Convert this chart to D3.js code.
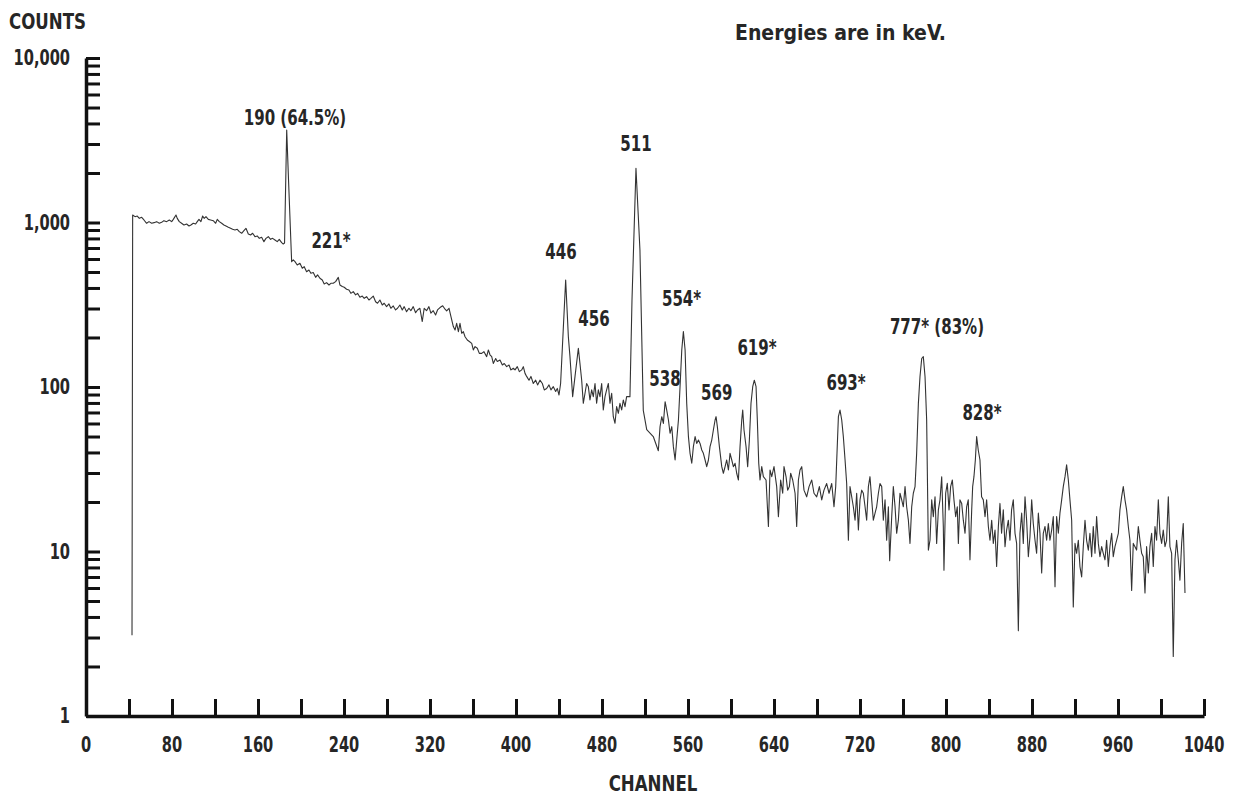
<!DOCTYPE html>
<html>
<head>
<meta charset="utf-8">
<script src="https://cdn.jsdelivr.net/npm/d3@7"></script>
<style>
body { margin: 0; background: #fff; }
svg text { font-family: "Liberation Sans Narrow", "DejaVu Sans Condensed", sans-serif; font-weight: bold; fill: #262626; }
</style>
</head>
<body>
<svg id="chart" width="1241" height="797"></svg>
<script>
// spectrum trace, as [channel, counts]
const plateauTrace = [
  [42.8,3.1],[43.4,1111],[45.6,1085],[47.7,1095],[49.6,1060],[51.8,1075],[53.9,1036],[56.4,989],[58.6,1012],[61.1,989],
  [63.2,998],[65.7,1012],[68.2,989],[70.4,1002],[72.5,1026],[75,1012],[77.5,1036],[79.7,1012],[81.2,1045],[83.7,1111],
  [84.9,1060],[86.8,1012],[88.9,989],[91.1,966],[93.6,979],[95.8,952],[97.6,966],[99.8,989],[102,979],[103.5,1012],
  [105.1,1045],[106.9,1012],[108.5,1095],[110,1060],[111.6,1085],[113.8,1045],[115.9,1036],[118.4,1026],[120.6,989],[122.1,1045],
  [124,1012],[126.2,989],[128.3,966],[130.2,952],[132.4,935],[134.5,922],[136.4,909],[138.6,901],[140.7,909],[142.6,880],
  [144.8,860],[146.9,892],[148.8,922],[151,852],[153.1,840],[155,860],[157.2,820],[159.3,828],[161.2,801],[163.4,813],
  [165.5,765],[167.4,801],[169.6,820],[171.7,790],[173.6,801],[175.8,783],[177.9,765],[179.8,790],[182,754],[183.5,740],
  [184.7,750],[186.7,3650],[188.4,1813],[191.3,578],[192.8,592]
];
const comptonTrace = [
  [194.4,578],[196.5,552],[199,565],[201.2,527],[203,539],[205.2,502],[207.4,514],[209.2,491],[211.4,496],[213.6,464],
  [215.4,480],[217.6,458],[219.8,447],[221.6,423],[223.8,431],[226,417],[227.8,427],[230,427],[232.2,437],[234.7,464],
  [236.2,417],[238.4,408],[240.2,404],[242.4,393],[244.6,389],[246.4,371],[248.6,380],[250.8,363],[252.6,371],[254.8,351],
  [257,357],[258.8,346],[261,354],[263.2,338],[265,346],[267.2,357],[269.4,330],[271.2,323],[273.4,338],[275.6,315],
  [277.4,323],[279.6,308],[281.8,320],[283.6,301],[285.8,311],[288,294],[289.8,301],[292,315],[294.2,294],[296,308],
  [298.2,287],[300.4,301],[302.2,291],[304.4,308],[306.6,283],[308.4,294],[310.6,301],[312.8,250],[314.6,301],[316.8,291],
  [319,308],[320.8,281],[323,291],[325.2,274],[327,294],[329.3,304],[331.8,312],[334,297],[335.5,290],[337.7,301],
  [339.5,268],[341.7,233],[343.3,222],[344.8,244],[346.4,217],[347.9,244],[349.5,212],[351,217],[352.6,202],[354.7,193],
  [356.6,189],[358.8,184],[360.3,168],[361.9,176],[364,172],[365.9,160],[368.1,160],[370.2,164],[372.7,153],[374.3,168],
  [375.8,157],[377.4,153],[378.9,139],[381.1,149],[382.6,143],[385.1,146],[387.3,136],[389.1,139],[391.3,133],[393.5,136],
  [395.3,127],[397.5,130],[399.1,127],[401.2,133],[403.1,124],[405.3,127],[406.8,133],[408.4,121],[409.9,116],[412.1,110],
  [413.9,116],[416.1,105],[418.3,110],[420.1,103],[422.3,110],[424.5,105],[426.3,96],[428.5,98],[430.7,103],[432.5,96],
  [434.7,100.5],[436.9,94],[438.4,98],[440,89.4],[441.5,105]
];
const peakTrace = [
  [446.2,447],[448.7,202],[450.2,153],[452.7,87.4],[454.9,116],[458,172],[459.5,139],[461.1,110],[462.6,79.6],[464.2,91.6],
  [465.7,105],[467.3,100.5],[468.8,83.4],[470.4,96],[471.9,87.4],[473.5,105],[475,79.6],[476.6,96],[478.1,87.4],[479.7,105],
  [481.2,72.5],[482.8,87.4],[484.3,96],[485.9,105],[487.4,79.6],[489,91.6],[490.5,66],[492.1,60.2],[493.6,76],[495.2,69.2],
  [496.7,79.6],[498.3,72.5],[499.8,83.4],[501.4,76],[502.9,87.4],[504.5,87.4],[506,87.4],[507.9,338],[511.6,2135],[515.3,680],
  [518.4,72],[521.6,55],[527.7,50],[532.4,41],[534,57.4],[535.6,66],[537.1,60.1],[538.7,81.4],[540.2,72.4],[541.8,63],
  [543.3,52.3],[544.9,57.4],[546.4,43.4],[548,36],[549.5,47.6],[551.1,63],[552.6,100.4],[554.2,168],[555.7,217],[557.3,168],
  [558.8,79.5],[560.4,49.9],[561.9,39.5],[563.5,34.4],[565,43.4],[566.6,49.9],[568.1,45.4],[569.7,47.6],[571.2,45.4],[572.8,41.4],
  [574.3,39.5],[575.9,36],[577.4,32.8],[579,36],[580.5,43.4],[582.1,47.6],[583.6,54.8],[585.2,63],[586.1,66],[587.3,57.4],
  [589.2,43.4],[591.4,32.8],[592.9,29.9],[594.5,32.8],[596,36],[597.6,31.3],[599.1,39.5],[600.7,36],[602.2,32.8],[603.8,34.4],
  [605.3,29.9],[606.9,27.2],[608.4,43.4],[610,63],[610.9,72.4],[612.1,54.8],[614,43.4],[615.5,32.8],[617.1,47.6],[618.6,79.5],
  [620.2,100.4],[621.7,110],[623.3,100.4],[624.5,63],[625.8,34.4]
];
const tailTrace = [
  [627,27.2],[628.6,32.8],[630.1,28.5],[632.6,27.2],[634.8,14.2],[636.3,31.3],[637.9,28.5],[640,32.8],[642.5,24.8],[644.1,16.3],
  [646.2,27.2],[648.1,22.6],[649.3,32.8],[651.2,28.5],[652.7,23.6],[654.3,24.8],[655.5,29.9],[657.4,27.2],[659.6,22.6],[661.1,14.2],
  [662.7,27.2],[664.2,31.3],[665.8,32.8],[667.9,23.6],[670.4,21.5],[672.6,24.8],[675.1,27.2],[677.2,22.6],[679.7,21.5],[682.2,24.8],
  [684.4,20.6],[686.5,23.6],[689,25.9],[691.2,22.6],[693.7,25.9],[695.8,18.7],[697.4,24.8],[699.9,66],[701.4,72.4],[703,63],
  [704.5,49.9],[706.1,36],[707.6,25.9],[709.2,11.7],[710.7,24.8],[712.3,21.5],[713.8,18.7],[715.4,15.5],[716.9,22.6],[718.5,13.5],
  [720,20.6],[721.6,23.6],[723.1,22.6],[724.7,18.7],[726.2,15.5],[727.8,24.8],[729.3,28.5],[730.9,20.6],[732.4,15.5],[734,17.1],
  [735.5,18.7],[737.1,22.6],[738.6,25.9],[740.2,24.8],[741.7,15.5],[743.3,20.6],[744.8,11.7],[746.4,18.7],[747.6,8.8],[749.5,16.3],
  [751,24.8],[752.6,18.7],[754.1,12.9],[755.7,15.5],[757.2,22.6],[758.8,20.6],[760.3,18.7],[761.9,24.8],[763.4,18.7],[765,15.5],
  [766.5,11.2],[768.1,18.7],[769.6,22.6],[771.2,24.8],[772.7,39.5],[774.3,79.5],[775.8,115.5],[777.4,149],[778.9,153],[780.5,115.5],
  [782,63],[783.6,10.2]
];
const farTailTrace = [
  [785.1,11.7],[786.7,20.6],[788.2,16.3],[789.8,21.5],[791.3,11.2],[792.9,17.9],[794.4,20.6],[796,28.5],[797.5,14.2],[798.1,7.7],
  [799.7,22.6],[801.2,26],[802.8,17.9],[804.3,24.8],[805.9,27.2],[807.4,20.6],[809,16.3],[810.5,18.7],[811.5,11.2],[813,20.6],
  [814.6,19.6],[816.1,15.5],[817.7,12.9],[819.2,18.7],[820.7,20.6],[822.3,8.9],[823.9,17.9],[824.8,24.8],[826,28.5],[827.3,36],
  [828.5,49.9],[830,41.4],[831.6,36],[833.1,21.5],[834.7,20.6],[836.3,16.3],[837.8,20.6],[839.4,14.2],[840.9,11.7],[842.5,15.5],
  [844,11.2],[845.6,13.5],[847.1,8.1],[848.7,14.2],[850.2,19.6],[851.7,12.9],[853.3,17.9],[854.9,10.7],[856.4,13.5],[858,15.5],
  [859.5,11.7],[861,17.9],[862.6,20.6],[864.2,12.9],[865.7,11.2],[867.3,3.3],[868.8,12.9],[870.4,17.1],[871.9,11.2],[873.5,21.5],
  [875,15.5],[876.6,9.3],[878.1,12.3],[879.7,20.6],[881.2,14.8],[882.8,11.7],[884.3,9.75],[885.9,17.1],[887.4,12.9],[889,7.4],
  [890.5,12.9],[892.1,14.2],[893.6,11.7],[895.2,14.8],[896.7,11.7],[898.3,13.5],[899.8,16.3],[901.4,6.1],[902.9,16.3],[904.5,12.9],
  [906,17.1],[907.6,20.6],[909.1,24.8],[910.7,28.5],[912.2,33.6],[913.8,27.2],[915.3,20.6],[916.9,15.5],[918.4,4.6],[920,11.2],
  [921.5,9.75],[923.1,11.7],[924.6,8.1],[926.2,7],[927.7,10.7],[929.3,15.5],[930.8,11.7],[932.4,10.2],[933.9,12.9],[935.5,9.3],
  [937,14.2],[938.6,9.75],[940.1,16.3],[941.7,11.2],[943.2,9.3],[944.8,10.7],[946.3,9.75],[947.9,8.9],[949.4,11.7],[951,8.1],
  [952.5,10.7],[954.1,12.9],[955.6,9.3],[957.2,10.7],[958.7,11.7],[960.3,12.9],[961.8,17.9],[963.4,21.5],[964.9,24.8],[966.5,20.6],
  [968,17.9],[969.6,14.2],[971.1,11.7],[972.7,5.8],[974.2,11.2],[975.8,10.7],[977.3,10.2],[978.9,14.2],[980.4,11.7],[982,9.75],
  [983.5,9.3],[985.1,5.6],[986.6,10.7],[988.2,7.4],[989.7,10.7],[991.3,12.9],[992.8,8.1],[994.4,14.2],[995.9,11.7],[997.5,20.6],
  [999,12.9],[1000.6,11.2],[1002.1,13.5],[1003.7,10.7],[1005.2,11.7],[1006.8,21.5],[1008.3,10.7],[1009.9,9.75],[1011.4,2.3],[1013,8.9],
  [1014.5,11.7],[1016.1,8.9],[1017.6,6.7],[1019.2,11.2],[1020.7,14.8],[1022.3,5.6]
];

// peak annotations, anchored in data units
const peakLabels   = ["190 (64.5%)", "221*", "446", "456", "511", "538", "554*", "569", "619*", "693*", "777* (83%)", "828*"];
const peakChannels = [194.4, 227.9, 441.9, 472.6, 511.6, 538.6, 554, 586.7, 624.2, 707, 791.6, 833.5];
const peakCounts   = [4350, 772, 666, 261, 3020, 113, 343, 92.6, 173, 106, 232, 69.5];

const xTickValues = [0, 40, 80, 120, 160, 200, 240, 280, 320, 360, 400, 440, 480, 520, 560, 600, 640, 680, 720, 760, 800, 840, 880, 920, 960, 1000, 1040];
const xLabelValues = [0, 80, 160, 240, 320, 400, 480, 560, 640, 720, 800, 880, 960, 1040];
const yLabelValues = [1, 10, 100, 1000, 10000];
const yLabelText = ["1", "10", "100", "1,000", "10,000"];

var svg = d3.select("#chart");

var x = d3.scaleLinear().domain([0, 1040]).range([86, 1204]);
var y = d3.scaleLog().domain([1, 10000]).range([716, 58]);

// narrow typewriter-ish text: squeeze horizontally
const addText = (px, py, txt, anchor, sx, size) => {
  return svg.append("text")
    .attr("transform", "translate(" + px + "," + py + ") scale(" + sx + ",1)")
    .attr("text-anchor", anchor)
    .attr("dominant-baseline", "central")
    .style("font-size", size + "px")
    .text(txt);
};

// x axis: ticks point up into the plot
var xAxis = d3.axisBottom(x)
  .tickValues(xTickValues)
  .tickSize(-17)
  .tickSizeOuter(0)
  .tickFormat("");
var gx = svg.append("g").attr("transform", "translate(0," + y(1) + ")").call(xAxis);

var yAxis = d3.axisLeft(y)
  .tickValues(y.ticks())
  .tickSize(-14)
  .tickSizeOuter(0)
  .tickFormat("");
var gy = svg.append("g").attr("transform", "translate(" + x(0) + ",0)").call(yAxis);

[gx, gy].forEach(g => {
  g.select(".domain").attr("stroke", "#111").attr("stroke-width", 3.5);
  g.selectAll(".tick line").attr("stroke", "#111").attr("stroke-width", 3);
});

xLabelValues.forEach(v => addText(x(v), y(1) + 29, String(v), "middle", 0.74, 22));
yLabelValues.forEach((v, i) => addText(x(0) - 16, y(v), yLabelText[i], "end", 0.74, 22));

// spectrum
var spectrum = [].concat(plateauTrace, comptonTrace, peakTrace, tailTrace, farTailTrace);
var line = d3.line()
  .x(d => x(d[0]))
  .y(d => y(d[1]));

svg.append("path")
  .datum(spectrum)
  .attr("fill", "none")
  .attr("stroke", "#333")
  .attr("stroke-width", 1.1)
  .attr("stroke-linejoin", "round")
  .attr("d", line);

// peak labels
peakLabels.forEach((t, i) => addText(x(peakChannels[i]), y(peakCounts[i]), t, "middle", 0.76, 22));

// titles
addText(9, 21, "COUNTS", "start", 0.84, 22);
addText(653, 783, "CHANNEL", "middle", 0.84, 22);
addText(735, 33, "Energies are in keV.", "start", 1, 21);
</script>
</body>
</html>
